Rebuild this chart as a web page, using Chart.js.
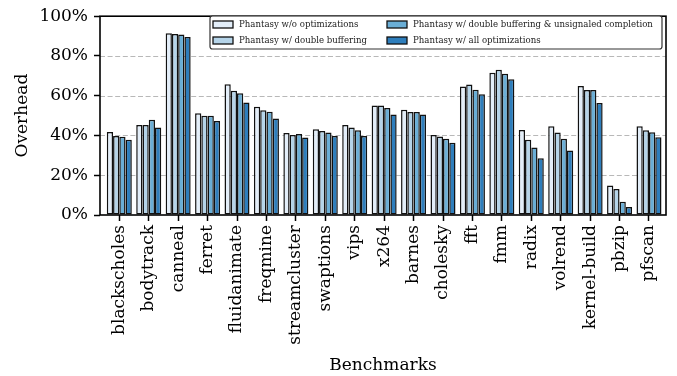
<!DOCTYPE html>
<html>
<head>
<meta charset="utf-8">
<script src="https://cdn.jsdelivr.net/npm/chart.js@4/dist/chart.umd.min.js"></script>
<style>
  html, body { margin: 0; padding: 0; background: #fff; }
  #wrap { width: 677px; height: 376px; position: relative; }
</style>
</head>
<body>
<div id="wrap"><canvas id="c" width="677" height="376"></canvas></div>
<script>
// Benchmarks on the x axis
const categories = ['blackscholes', 'bodytrack', 'canneal', 'ferret', 'fluidanimate', 'freqmine',
  'streamcluster', 'swaptions', 'vips', 'x264', 'barnes', 'cholesky', 'fft', 'fmm', 'radix',
  'volrend', 'kernel-build', 'pbzip', 'pfscan'];

// Series labels
const seriesNames = [
  'Phantasy w/o optimizations',
  'Phantasy w/ double buffering',
  'Phantasy w/ double buffering & unsignaled completion',
  'Phantasy w/ all optimizations'
];

// Overhead (%) per benchmark, one array per configuration
const noOpt          = [41.7, 45.3, 91.4, 51.2, 65.8, 54.5, 41.3, 43.1, 45.3, 55.1, 53.0, 40.3, 64.7, 71.6, 42.7, 44.7, 64.9, 14.9, 44.7];
const doubleBuf      = [39.7, 45.3, 91.1, 49.9, 62.5, 52.7, 40.3, 42.3, 44.0, 55.1, 51.8, 39.5, 65.7, 73.1, 37.9, 41.5, 62.9, 13.1, 42.6];
const doubleBufUnsig = [39.4, 47.9, 90.8, 49.9, 61.2, 51.9, 40.7, 41.5, 42.6, 53.8, 51.8, 38.4, 63.0, 71.1, 33.9, 38.4, 62.9, 6.7, 41.6];
const allOpt         = [37.8, 44.0, 89.6, 47.3, 56.6, 48.6, 39.0, 39.8, 39.8, 50.5, 50.5, 36.4, 60.7, 68.3, 28.5, 32.4, 56.3, 4.0, 39.1];

// Y axis tick values (percent)
const yTicks = [0, 20, 40, 60, 80, 100];
const gridValues = [20, 40, 60, 80];

const seriesValues = [noOpt, doubleBuf, doubleBufUnsig, allOpt];
const fills = ['#e3eef9', '#b5d4e9', '#6aaed6', '#2e7ebc'];
const FONT = 'DejaVu Serif';

const datasets = seriesValues.map((vals, k) => ({
  label: seriesNames[k],
  data: vals.map((v, i) => ({ x: i, y: v })),
  backgroundColor: fills[k],
  borderColor: '#111',
  borderWidth: 1.5,
  borderSkipped: false,
  categoryPercentage: 0.85,
  barPercentage: 1.0
}));

// dashed horizontal grid lines behind the bars
const gridPlugin = {
  id: 'dashedGrid',
  beforeDatasetsDraw(chart) {
    const { ctx, chartArea, scales } = chart;
    ctx.save();
    ctx.strokeStyle = '#b8b8b8';
    ctx.lineWidth = 1;
    ctx.setLineDash([5, 2.6]);
    gridValues.forEach(v => {
      const y = Math.round(scales.y.getPixelForValue(v)) + 0.5;
      ctx.beginPath();
      ctx.moveTo(chartArea.left, y);
      ctx.lineTo(chartArea.right, y);
      ctx.stroke();
    });
    ctx.restore();
  }
};

// frame around the plot area
const framePlugin = {
  id: 'frame',
  afterDatasetsDraw(chart) {
    const { ctx, chartArea } = chart;
    ctx.save();
    ctx.strokeStyle = '#000';
    ctx.lineWidth = 1.6;
    ctx.strokeRect(chartArea.left, chartArea.top, chartArea.right - chartArea.left, chartArea.bottom - chartArea.top);
    ctx.restore();
  }
};

// two-column legend box in the upper right
const legendPlugin = {
  id: 'boxLegend',
  afterDraw(chart) {
    const { ctx } = chart;
    const box = { x: 210, y: 16, w: 452, h: 33 };
    ctx.save();
    ctx.fillStyle = 'rgba(255,255,255,0.9)';
    ctx.strokeStyle = '#333';
    ctx.lineWidth = 1.2;
    const r = 2.5;
    ctx.beginPath();
    ctx.moveTo(box.x + r, box.y);
    ctx.arcTo(box.x + box.w, box.y, box.x + box.w, box.y + box.h, r);
    ctx.arcTo(box.x + box.w, box.y + box.h, box.x, box.y + box.h, r);
    ctx.arcTo(box.x, box.y + box.h, box.x, box.y, r);
    ctx.arcTo(box.x, box.y, box.x + box.w, box.y, r);
    ctx.closePath();
    ctx.fill();
    ctx.stroke();
    const cols = [213, 387];
    const rows = [24.5, 40.5];
    ctx.font = '8.6px "' + FONT + '"';
    ctx.textBaseline = 'middle';
    ctx.textAlign = 'left';
    chart.data.datasets.forEach((ds, k) => {
      const cx = cols[Math.floor(k / 2)];
      const cy = rows[k % 2];
      ctx.fillStyle = ds.backgroundColor;
      ctx.fillRect(cx, cy - 3.5, 20, 7);
      ctx.strokeStyle = '#111';
      ctx.lineWidth = 1.3;
      ctx.strokeRect(cx, cy - 3.5, 20, 7);
      ctx.fillStyle = '#222';
      ctx.fillText(ds.label, cx + 26, cy + 0.5);
    });
    ctx.restore();
  }
};

new Chart(document.getElementById('c'), {
  type: 'bar',
  data: { datasets },
  options: {
    responsive: false,
    animation: false,
    devicePixelRatio: 1,
    layout: { padding: { top: 14, right: 11, left: 0, bottom: 0 } },
    plugins: { legend: { display: false }, tooltip: { enabled: false } },
    scales: {
      x: {
        type: 'linear',
        offset: false,
        min: -0.656,
        max: 18.578,
        afterBuildTicks: s => { s.ticks = categories.map((_, i) => ({ value: i })); },
        afterFit: s => { s.height = 161; },
        ticks: {
          autoSkip: false,
          minRotation: 90,
          maxRotation: 90,
          padding: 4,
          color: '#000',
          font: { family: FONT, size: 17 },
          callback: v => categories[v]
        },
        grid: { offset: false, drawOnChartArea: false, drawTicks: true, tickLength: 6, tickWidth: 1.5, tickColor: '#000' },
        border: { display: false },
        title: { display: true, text: 'Benchmarks', color: '#000', font: { family: FONT, size: 17 }, padding: { top: 0, bottom: 0 } }
      },
      y: {
        min: 0,
        max: 100,
        afterBuildTicks: s => { s.ticks = yTicks.map(v => ({ value: v })); },
        afterFit: s => { s.width = 100; },
        ticks: {
          padding: 6,
          color: '#000',
          font: { family: FONT, size: 17 },
          callback: v => v + '%'
        },
        grid: { drawOnChartArea: false, drawTicks: true, tickLength: 6, tickWidth: 1.5, tickColor: '#000' },
        border: { display: false },
        title: { display: true, text: 'Overhead', color: '#000', font: { family: FONT, size: 17 }, padding: { top: 12, bottom: 0 } }
      }
    }
  },
  plugins: [gridPlugin, framePlugin, legendPlugin]
});
</script>
</body>
</html>
